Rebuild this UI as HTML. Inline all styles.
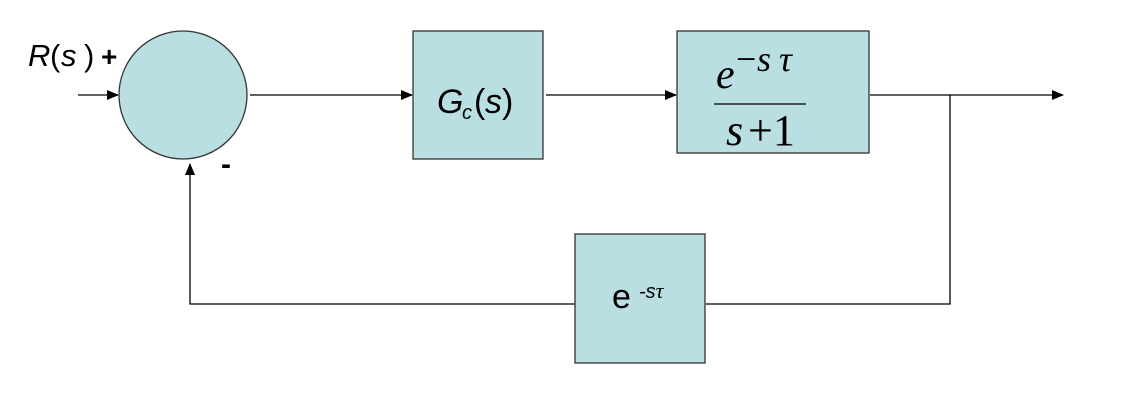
<!DOCTYPE html>
<html><head><meta charset="utf-8"><style>
html,body{margin:0;padding:0;background:#fff;}
</style></head><body>
<svg width="1141" height="410" viewBox="0 0 1141 410" xmlns="http://www.w3.org/2000/svg">
<defs><marker id="a" markerWidth="12" markerHeight="10" refX="11" refY="5" orient="auto" markerUnits="userSpaceOnUse"><path d="M0,0 L12,5 L0,10 z" fill="#000"/></marker></defs>
<g stroke="#000" stroke-width="1.3" fill="none">
<line x1="78" y1="95" x2="118" y2="95" marker-end="url(#a)"/>
<line x1="250" y1="95" x2="412" y2="95" marker-end="url(#a)"/>
<line x1="546" y1="95" x2="676" y2="95" marker-end="url(#a)"/>
<line x1="870" y1="95" x2="1063" y2="95" marker-end="url(#a)"/>
<polyline points="950,95 950,304 706,304"/>
<polyline points="575,304 190,304 190,164" marker-end="url(#a)"/>
</g>
<g fill="#b9dfe2" stroke="#333" stroke-width="1.3">
<ellipse cx="183" cy="95" rx="64" ry="64"/>
<rect x="413" y="31" width="130" height="128"/>
<rect x="677" y="31" width="192" height="122"/>
<rect x="575" y="234" width="130" height="129"/>
</g>
<g style="font-family:'Liberation Sans',sans-serif" fill="#000">
<text y="66" style="font-size:31px"><tspan x="28" font-style="italic">R</tspan><tspan x="50">(</tspan><tspan x="61" font-style="italic">s</tspan><tspan x="84">)</tspan><tspan x="101" style="font-weight:bold;font-size:28px">+</tspan></text>
<text x="221" y="174" style="font-size:30px;font-weight:bold">-</text>
<text y="113" style="font-size:34px"><tspan x="437" font-style="italic">G</tspan><tspan x="462" dy="6" font-style="italic" style="font-size:20px">c</tspan><tspan x="474" dy="-6">(</tspan><tspan x="485" font-style="italic">s</tspan><tspan x="502">)</tspan></text>
<text x="612" y="308" style="font-size:34px">e</text>
<text x="639" y="298" style="font-size:20px;font-style:italic">-s<tspan style="font-family:'Liberation Serif',serif;font-size:22px">τ</tspan></text>
</g>
<g style="font-family:'Liberation Serif',serif" fill="#000">
<text x="716" y="88" style="font-size:42px;font-style:italic">e</text>
<text y="71" style="font-size:36px"><tspan x="736">−</tspan><tspan x="757" font-style="italic">s</tspan><tspan x="779" font-style="italic">τ</tspan></text>
<line x1="714" y1="104" x2="806" y2="104" stroke="#000" stroke-width="1.3"/>
<text y="145" style="font-size:44px"><tspan x="726" font-style="italic">s</tspan><tspan x="748">+1</tspan></text>
</g>
</svg>
</body></html>
